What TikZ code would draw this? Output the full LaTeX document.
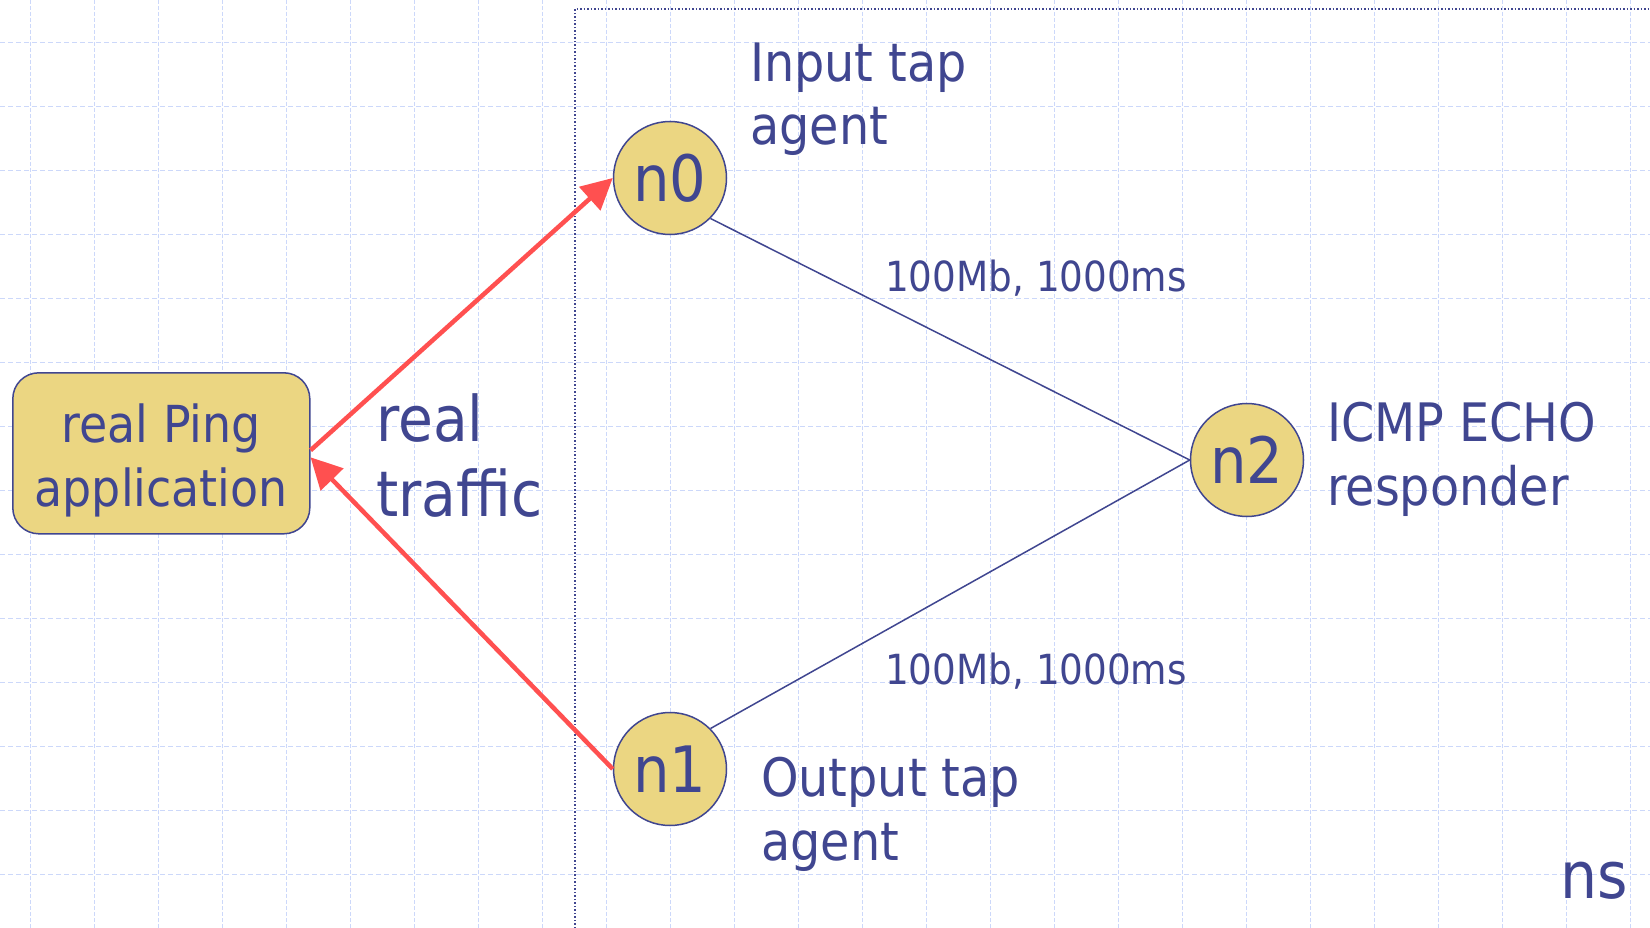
\documentclass[tikz,border=0pt]{standalone}
\usepackage{fontspec}
\setmainfont{DejaVu Sans Condensed}
\usetikzlibrary{arrows.meta}
\definecolor{ink}{RGB}{64,70,144}
\definecolor{sand}{RGB}{235,214,130}
\definecolor{alert}{RGB}{255,80,80}
\definecolor{gridblue}{RGB}{204,216,250}
\tikzset{
  gridh/.style={draw=gridblue, line width=1.3pt, dash pattern=on 5pt off 3pt},
  gridv/.style={draw=gridblue, line width=1.3pt, dash pattern=on 4pt off 2pt},
  nsframe/.style={draw=ink, line width=1.5pt, dotted},
  netnode/.style={circle, draw=ink, line width=1.5pt, fill=sand, minimum size=113pt,
    inner sep=0pt, text=ink, font=\fontsize{64}{70}\selectfont},
  appbox/.style={rectangle, rounded corners=26pt, draw=ink, line width=1.5pt, fill=sand,
    minimum width=297pt, minimum height=161pt, inner sep=0pt, align=center, text=ink,
    font=\fontsize{51}{64}\selectfont},
  caption/.style={text=ink, align=left, inner sep=0pt, anchor=base west,
    font=\fontsize{53}{63.3}\selectfont},
  bigcaption/.style={caption, font=\fontsize{63}{75}\selectfont},
  linklabel/.style={text=ink, inner sep=0pt, anchor=base west, font=\fontsize{41.5}{48}\selectfont},
  link/.style={draw=ink, line width=1.5pt},
  traffic/.style={draw=alert, line width=4.5pt, -{Triangle[length=31pt,width=31pt]}}
}
\begin{document}
\begin{tikzpicture}[x=1pt, y=-1pt]
  \useasboundingbox (0,0) rectangle (1650,928);
  \fill[white] (0,0) rectangle (1650,928);
  % background grid
  \foreach \k in {0,...,25} \draw[gridv] (30.3+64*\k,0) -- (30.3+64*\k,928);
  \foreach \k in {0,...,13} \draw[gridh] (0,42.7+64*\k) -- (1650,42.7+64*\k);
  % simulator boundary
  \draw[nsframe] (575,928) -- (575,9) -- (1650,9);
  % nodes
  \node[appbox] (app) at (161.3,453.3) {\rule{0pt}{53pt}real Ping\\application};
  \node[netnode] (n0) at (670,178) {n0};
  \node[netnode] (n1) at (670,769) {n1};
  \node[netnode] (n2) at (1247,460) {n2};
  % links
  \draw[link] (n0.south east) -- (n2.west);
  \draw[link] (n1.north east) -- (n2.west);
  \draw[traffic] ([yshift=3pt]app.east) -- (n0.west);
  \draw[traffic] (n1.west) -- ([yshift=-4pt]app.east);
  % captions (anchored on the baseline of their last line)
  \node[caption] (inlab) at (750,145) {Input tap\\agent};
  \node[caption] (outlab) at (761,860) {Output tap\\agent};
  \node[caption] (echolab) at (1327,505) {ICMP ECHO\\responder};
  \node[bigcaption] (trafficlab) at (376,516.7) {real\\traffic};
  \node[linklabel] (l02) at (885,291.7) {100Mb, 1000ms};
  \node[linklabel] (l12) at (885,684) {100Mb, 1000ms};
  \node[text=ink, inner sep=0pt, anchor=base west, font=\fontsize{65}{70}\selectfont] (nslab) at (1560,898.3) {ns};
\end{tikzpicture}
\end{document}
